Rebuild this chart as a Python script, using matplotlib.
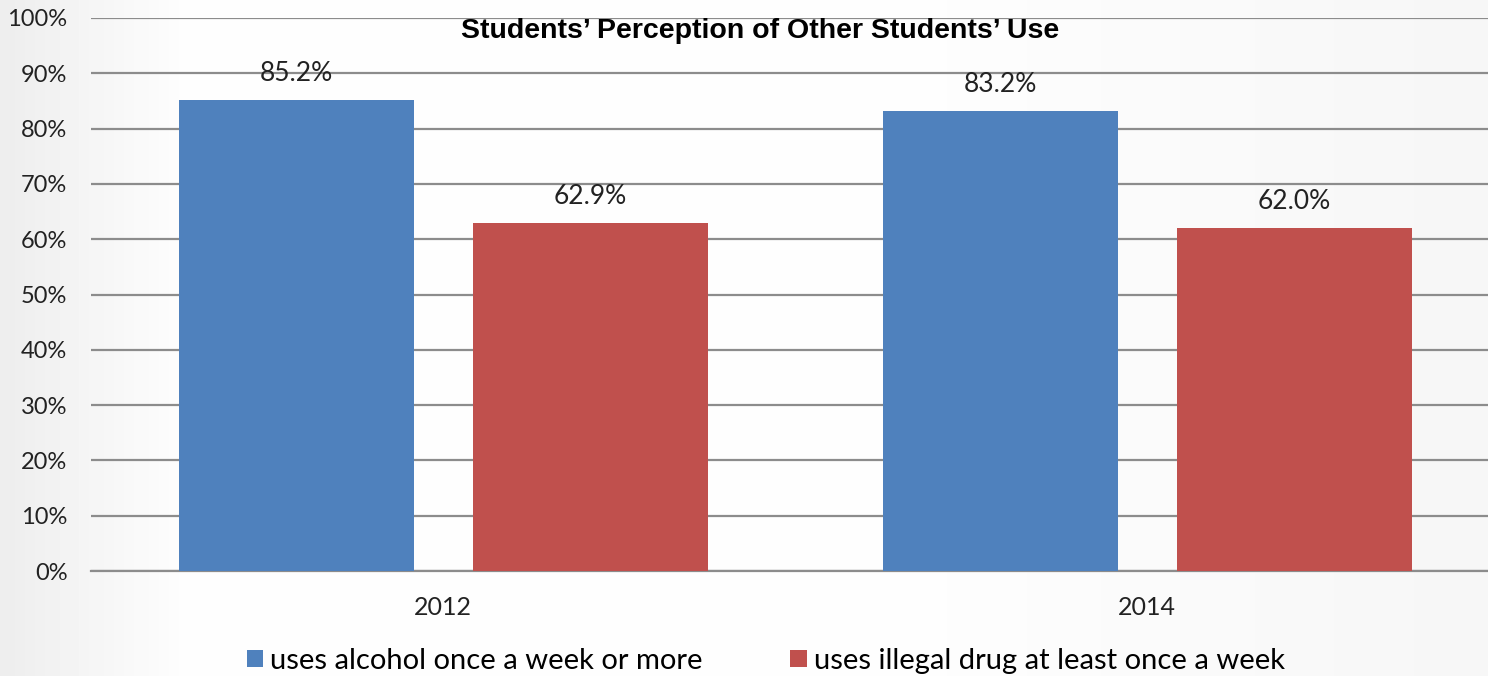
import numpy as np
import matplotlib
matplotlib.use("Agg")
from matplotlib import pyplot as plt
from matplotlib.ticker import PercentFormatter

# data
years = ["2012", "2014"]
alcohol = [85.2, 83.2]
drugs = [62.9, 62.0]
series_names = ["uses alcohol once a week or more", "uses illegal drug at least once a week"]
title = "Students\u2019 Perception of Other Students\u2019 Use"

blue = "#4f81bd"
red = "#c0504d"

plt.rcParams['font.family'] = ['Lato', 'DejaVu Sans']

fig = plt.figure(figsize=(14.88, 6.76), dpi=100)

# soft grey-white background
bg = fig.add_axes([0, 0, 1, 1], zorder=-10)
grad = np.linspace(0, 1, 300)
shade = 0.93 + 0.065 * np.clip(grad * 8, 0, 1) - 0.03 * np.clip((grad - 0.6) * 2.5, 0, 1)
bg.imshow(shade[None, :], cmap="gray", vmin=0, vmax=1, aspect="auto", extent=[0, 1, 0, 1])
bg.axis("off")

# axes runs a little past the right edge, like the original slide
ax = fig.add_axes([91 / 1488, 1 - 571 / 676, 1408 / 1488, 553 / 676])
ax.patch.set_alpha(0)

x = np.arange(len(years))
w = 0.334
b1 = ax.bar(x - 0.208, alcohol, w, color=blue, label=series_names[0], zorder=3)
b2 = ax.bar(x + 0.209, drugs, w, color=red, label=series_names[1], zorder=3)

for bars in (b1, b2):
    ax.bar_label(bars, labels=[f"{v:.1f}%" for v in bars.datavalues], padding=10,
                 fontsize=19, color="#222222")

ax.set_xlim(-0.5, 1.5)
ax.set_ylim(0, 100)
ax.set_yticks(range(0, 101, 10))
ax.yaxis.set_major_formatter(PercentFormatter(decimals=0))
ax.set_xticks(x)
ax.set_xticklabels(years)
ax.tick_params(axis="x", length=0, labelsize=18, colors="#222222", pad=18)
ax.tick_params(axis="y", length=0, labelsize=17, colors="#222222", pad=17)
ax.yaxis.grid(True, color="#8c8c8c", linewidth=1.6, zorder=0)
for s in ["left", "right", "top"]:
    ax.spines[s].set_visible(False)
ax.spines["bottom"].set_color("#8c8c8c")
ax.spines["bottom"].set_linewidth(1.6)

fig.text(760 / 1488, 1 - 31 / 676, title, ha="center", va="center", fontsize=20.5,
         fontweight="bold", family=["Liberation Sans", "DejaVu Sans"])

fig.legend(handles=[b1, b2], loc="center", bbox_to_anchor=(766 / 1488, 1 - 661 / 676),
           ncol=2, frameon=False, fontsize=21, handlelength=0.55, handleheight=0.55,
           handletextpad=0.25, columnspacing=3.0)

fig.savefig("out.png", dpi=100)
